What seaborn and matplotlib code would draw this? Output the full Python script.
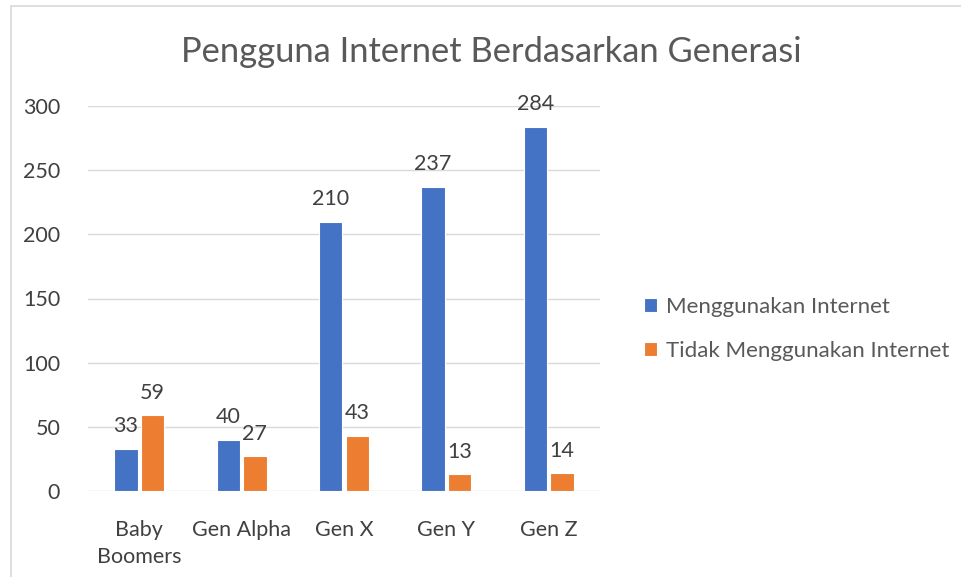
import matplotlib
matplotlib.use("Agg")
import matplotlib.pyplot as plt
import seaborn as sns
import pandas as pd
from matplotlib.patches import Rectangle

categories = ["Baby\nBoomers", "Gen Alpha", "Gen X", "Gen Y", "Gen Z"]
series_names = ["Menggunakan Internet", "Tidak Menggunakan Internet"]
menggunakan = [33, 40, 210, 237, 284]
tidak_menggunakan = [59, 27, 43, 13, 14]
yticks = [0, 50, 100, 150, 200, 250, 300]

df = pd.DataFrame({
    "Generasi": categories * 2,
    "Seri": [series_names[0]] * len(categories) + [series_names[1]] * len(categories),
    "Nilai": menggunakan + tidak_menggunakan,
})

sns.set_theme(style="white")
plt.rcParams["font.family"] = ["Lato", "DejaVu Sans"]

fig = plt.figure(figsize=(9.61, 5.77), dpi=100)
ax = fig.add_axes([88 / 961, 1 - 491 / 577, (600 - 88) / 961, (491 - 106) / 577])

palette = {series_names[0]: "#4472C4", series_names[1]: "#ED7D31"}
sns.barplot(data=df, x="Generasi", y="Nilai", hue="Seri", palette=palette,
            saturation=1, width=0.52, gap=0.12, edgecolor="white", linewidth=0.8,
            ax=ax, zorder=3)

ax.set_ylim(0, 300)
ax.set_yticks(yticks)
ax.set_xlim(-0.5, 4.5)
ax.grid(axis="y", color="#D9D9D9", linewidth=1, zorder=0)
for s in ax.spines.values():
    s.set_visible(False)
ax.set_xlabel("")
ax.set_ylabel("")
ax.tick_params(axis="y", length=0, pad=20, labelsize=15.5, labelcolor="#404040")
ax.tick_params(axis="x", length=0, pad=21, labelsize=15.5, labelcolor="#404040")
for lbl in ax.get_xticklabels():
    lbl.set_linespacing(1.4)

for cont in ax.containers:
    ax.bar_label(cont, padding=9, fontsize=15.5, color="#404040")

fig.text(491 / 961, 1 - 52 / 577, "Pengguna Internet Berdasarkan Generasi",
         ha="center", va="center", fontsize=24.8, color="#595959")

handles, labels = ax.get_legend_handles_labels()
ax.legend(handles, labels, loc="center left", bbox_to_anchor=(624 / 961, 1 - 329 / 577),
          bbox_transform=fig.transFigure, frameon=False, fontsize=16,
          labelcolor="#595959", handlelength=0.6, handleheight=0.6,
          handletextpad=0.4, labelspacing=1.1)

fig.patches.append(Rectangle((11 / 961, -0.05), 1.0, 1 - 6 / 577 + 0.05,
                             transform=fig.transFigure, fill=False,
                             edgecolor="#D9D9D9", linewidth=1.2))

fig.savefig("out.png", dpi=100)
